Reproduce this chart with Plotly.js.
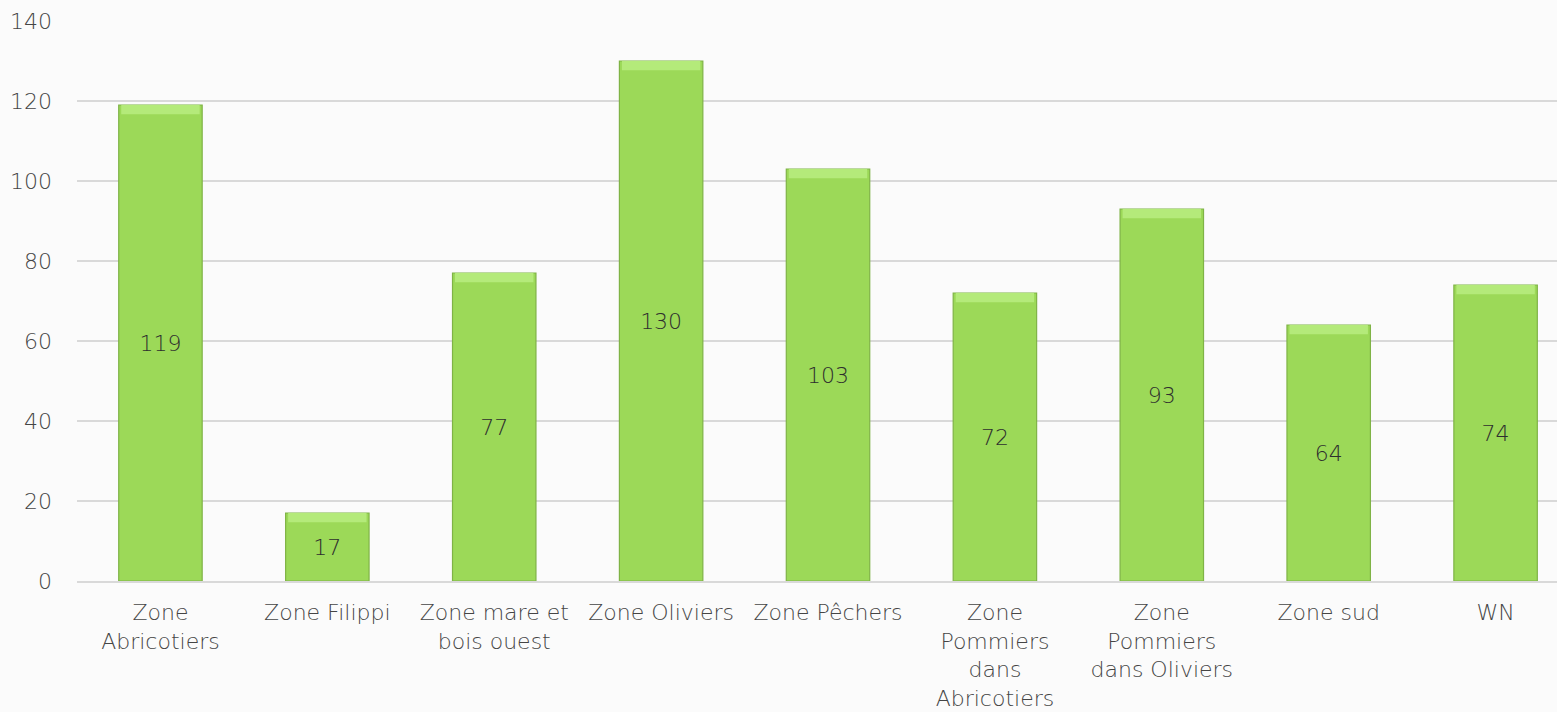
<!DOCTYPE html>
<html>
<head>
<meta charset="utf-8">
<script src="https://cdn.plot.ly/plotly-3.0.1.min.js"></script>
<style>html,body{margin:0;padding:0;background:#fbfbfb;}#chart{width:1557px;height:712px;}</style>
</head>
<body>
<div id="chart"></div>
<script>
const categories = ["Zone<br>Abricotiers", "Zone Filippi", "Zone mare et<br>bois ouest", "Zone Oliviers", "Zone Pêchers", "Zone<br>Pommiers<br>dans<br>Abricotiers", "Zone<br>Pommiers<br>dans Oliviers", "Zone sud", "WN"];
const values = [119, 17, 77, 130, 103, 72, 93, 64, 74];
const yTicks = [0, 20, 40, 60, 80, 100, 120, 140];

const highlight = 2.3;
const fontFam = "'DejaVu Sans', sans-serif";
const fSize = 22;
const txtColor = '#454545';

const mainBars = {
  type: 'bar',
  x: categories,
  y: values,
  width: 0.5,
  marker: {color: '#9cd958', line: {color: '#7fb346', width: 1.2}},
  text: values.map(String),
  textposition: 'inside',
  insidetextanchor: 'middle',
  textfont: {family: fontFam, size: fSize, color: '#2e2e2e', weight: 200},
  hoverinfo: 'x+y',
  showlegend: false
};
const topBevel = {
  type: 'bar',
  x: categories,
  y: values.map(() => highlight),
  base: values.map(v => v - highlight),
  width: 0.47,
  marker: {color: '#b4ea7a', line: {width: 0}},
  hoverinfo: 'skip',
  showlegend: false
};

const layout = {
  width: 1557, height: 712,
  margin: {l: 77, r: 0, t: 21, b: 131},
  paper_bgcolor: '#fbfbfb',
  plot_bgcolor: '#fbfbfb',
  barmode: 'overlay',
  font: {family: fontFam, size: fSize, color: txtColor, weight: 200},
  xaxis: {
    type: 'category',
    range: [-0.5, 8.368],
    showgrid: false,
    showline: true, linecolor: '#d9d9d9', linewidth: 1.5,
    ticks: '',
    tickangle: 0,
    ticklabelstandoff: 11,
    tickfont: {family: fontFam, size: fSize, color: txtColor, weight: 200},
    fixedrange: true
  },
  yaxis: {
    range: [0, 140],
    tickvals: yTicks,
    ticktext: yTicks.map(String),
    showgrid: true, gridcolor: '#d9d9d9', gridwidth: 1.5,
    zeroline: false,
    showline: false,
    ticks: '',
    ticklabelstandoff: 24,
    tickfont: {family: fontFam, size: fSize, color: txtColor, weight: 200},
    fixedrange: true
  }
};

Plotly.newPlot('chart', [mainBars, topBevel], layout, {displayModeBar: false, staticPlot: true});
</script>
</body>
</html>
